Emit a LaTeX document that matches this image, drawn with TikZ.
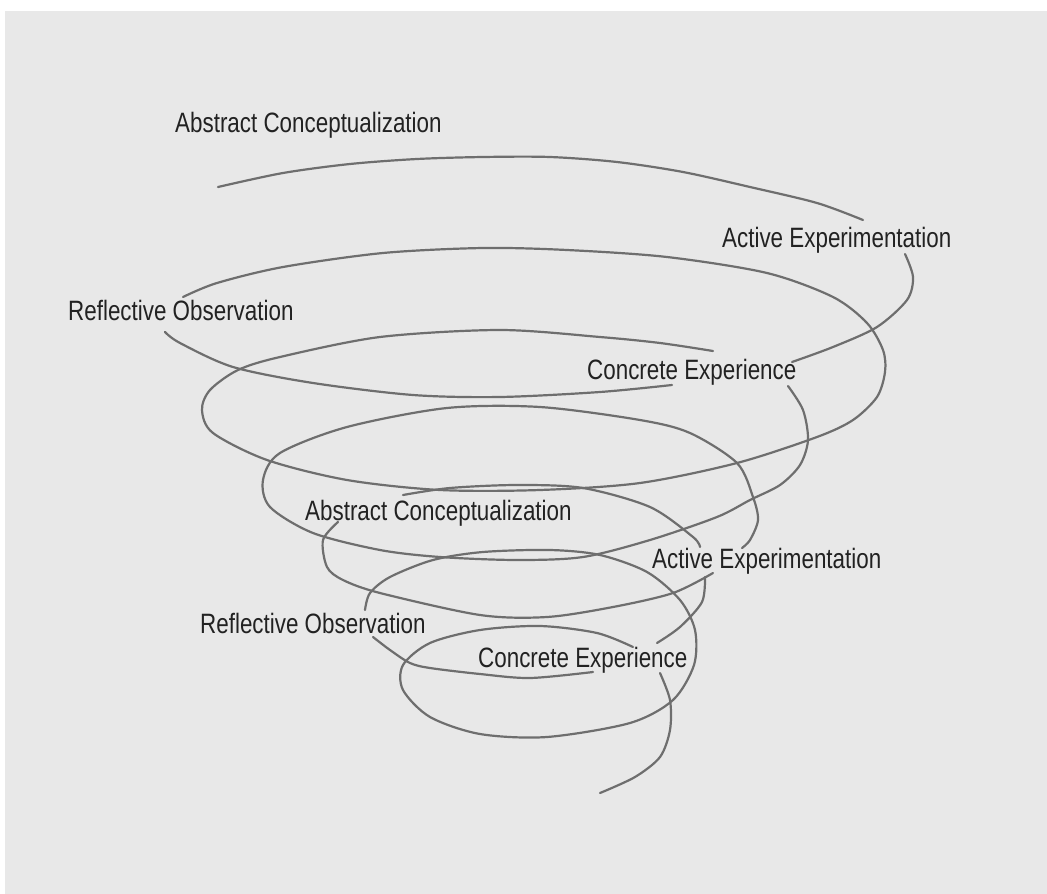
\documentclass[tikz,border=0pt]{standalone}
\usepackage{fontspec}
\setmainfont{Liberation Sans}[FakeStretch=0.8]
\usepackage{tikz}
\definecolor{bggray}{HTML}{E8E8E8}
\definecolor{linegray}{HTML}{6E6E6E}
\definecolor{txtgray}{HTML}{222222}
\tikzset{spiral/.style={draw=linegray, line width=2.2pt, line cap=round},
	stage/.style={inner sep=0pt, anchor=base west, text=txtgray,
		font=\fontsize{28}{32}\selectfont}}

\begin{document}
\begin{tikzpicture}[x=1pt,y=-1pt]
		\useasboundingbox (0,0) rectangle (1047,894);
		\fill[white] (0,0) rectangle (1047,894);
		\fill[bggray] (5,11) rectangle (1047,894);
		% stage labels
		\node[stage] (ac1) at (175,132) {Abstract Conceptualization};
		\node[stage] (ae1) at (722,247) {Active Experimentation};
		\node[stage] (ro1) at (68,320) {Reflective Observation};
		\node[stage] (ce1) at (587,379) {Concrete Experience};
		\node[stage] (ac2) at (305,520) {Abstract Conceptualization};
		\node[stage] (ae2) at (652,568) {Active Experimentation};
		\node[stage] (ro2) at (200,633) {Reflective Observation};
		\node[stage] (ce2) at (478,667) {Concrete Experience};
		% spiral, piece by piece between the labels
		\draw[spiral] plot[smooth] coordinates {(218,187) (283,173) (350,164) (417,159)
			(483,157) (550,157) (617,162) (683,172) (750,187) (817,203) (863,220)};
		\draw[spiral] plot[smooth] coordinates {(905,254) (913,277) (907,300) (877,327)
			(833,347) (792,362)};
		\draw[spiral] plot[smooth] coordinates {(672,385) (600,392) (500,397) (413,395)
			(313,383) (233,367) (180,343) (165,332)};
		\draw[spiral] plot[smooth] coordinates {(183,297) (217,283) (283,267) (383,253)
			(483,248) (567,250) (667,257) (767,273) (833,297) (867,323) (883,350) (885,372)
			(877,397) (853,420) (817,437) (737,463) (640,483) (540,490) (440,490) (347,480)
			(267,460) (213,433) (202,410) (210,390) (238,370) (280,357) (380,337) (500,330)
			(600,337) (660,343) (713,351)};
		\draw[spiral] plot[smooth] coordinates {(788,386) (803,410) (808,440) (800,465)
			(780,485) (750,500) (717,517) (650,540) (583,557) (517,560) (440,557) (380,550)
			(313,533) (270,507) (263,480) (280,453) (347,427) (447,408) (540,407) (640,420)
			(690,433) (737,463) (753,497) (758,520) (750,540) (742,548)};
		\draw[spiral] plot[smooth] coordinates {(713,573) (673,593) (613,607) (547,617)
			(480,615) (380,593) (343,580) (327,567) (323,540) (338,522)};
		\draw[spiral] plot[smooth] coordinates {(403,495) (450,488) (517,485) (583,488)
			(650,507) (693,537) (700,547)};
		\draw[spiral] plot[smooth] coordinates {(705,577) (702,602) (680,627) (657,643)};
		\draw[spiral] plot[smooth] coordinates {(593,672) (530,678) (480,674) (430,668)
			(410,663) (390,650) (373,637)};
		\draw[spiral] plot[smooth] coordinates {(365,610) (370,593) (390,577) (433,560)
			(483,552) (550,550) (600,555) (647,572) (680,600) (695,630) (694,665) (673,700)
			(630,723) (547,737) (480,734) (430,717) (403,690) (403,665) (430,643) (480,630)
			(540,626) (597,633) (633,647)};
		\draw[spiral] plot[smooth] coordinates {(660,673) (670,700) (670,730) (660,757)
			(635,777) (600,793)};
\end{tikzpicture}
\end{document}
